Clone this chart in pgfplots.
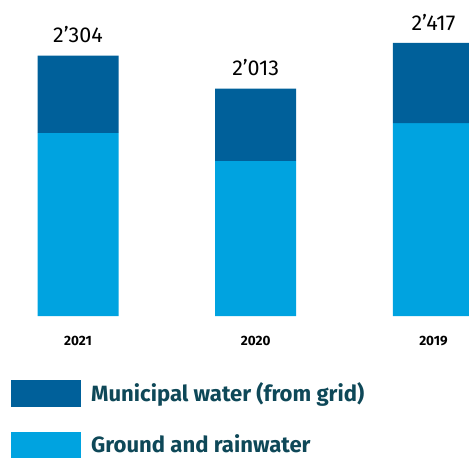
\documentclass[border=0pt]{standalone}
\usepackage{pgfplots}
\pgfplotsset{compat=1.18}
\usepackage{fontspec}
\setmainfont{Fira Sans}
\definecolor{muni}{RGB}{0,96,154}
\definecolor{ground}{RGB}{0,163,224}
\definecolor{legtext}{RGB}{14,72,88}
\begin{document}
\begin{tikzpicture}
\path[use as bounding box] (0pt,-142pt) rectangle (469pt,316pt);
\begin{axis}[
  at={(0pt,0pt)}, anchor=south west,
  scale only axis, width=469pt, height=316pt,
  xmin=-0.439, xmax=2.2, ymin=0, ymax=2797,
  axis line style={draw=none},
  major tick length=0pt,
  ytick=\empty,
  xtick={0,1,2}, xticklabels={2021,2020,2019},
  xticklabel style={font=\bfseries\fontsize{13.5}{13.5}\selectfont, anchor=base, yshift=-29.7pt, inner sep=0pt, text=black},
  clip=true,
]
\addplot[ybar, bar width=81pt, bar shift=0pt, stack plots=y, fill=ground, draw=none] coordinates {(0,1620) (1,1372) (2,1708)};
\addplot[ybar, bar width=81pt, bar shift=0pt, stack plots=y, fill=muni, draw=none] coordinates {(0,684) (1,641) (2,709)};
\addplot[sharp plot, stack plots=false, draw=none, mark=none, nodes near coords, point meta=explicit symbolic,
  nodes near coords style={font=\fontsize{21.5}{21.5}\selectfont, anchor=base, yshift=12.7pt, inner sep=0pt, text=black}]
  coordinates {(0,2304)[2’304] (1,2013)[2’013] (2,2417)[2’417]};
\end{axis}
\fill[muni] (11pt,-64pt) rectangle (81pt,-90.7pt);
\node[anchor=base west, inner sep=0pt, text=legtext, font=\bfseries\fontsize{22.1}{22.1}\selectfont] at (91pt,-85.7pt) {Municipal water (from grid)};
\fill[ground] (11pt,-116.3pt) rectangle (81pt,-146pt);
\node[anchor=base west, inner sep=0pt, text=legtext, font=\bfseries\fontsize{22.1}{22.1}\selectfont] at (91pt,-136.7pt) {Ground and rainwater};
\end{tikzpicture}
\end{document}
